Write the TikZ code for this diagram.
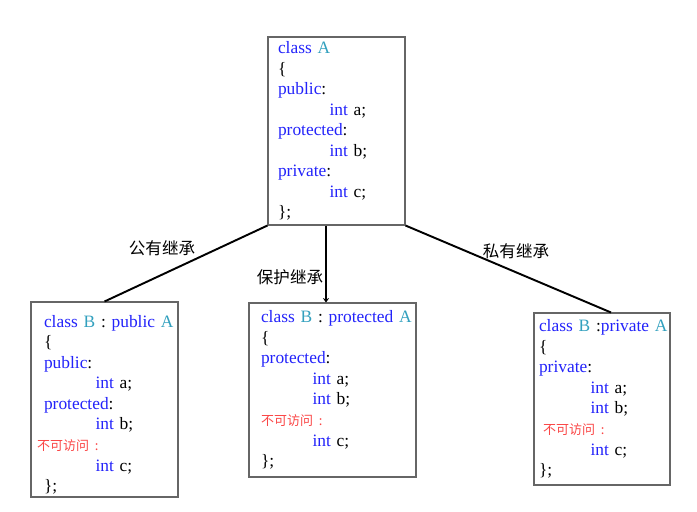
\documentclass[tikz,border=0pt]{standalone}
\usepackage{fontspec}
\setmainfont{Liberation Serif}
\newfontfamily\cjk{Noto Sans CJK SC}
\usepackage{tikz}
\usetikzlibrary{arrows.meta,calc}
\definecolor{kwblue}{RGB}{35,35,250}
\definecolor{clsteal}{RGB}{50,160,190}
\definecolor{noaccess}{RGB}{250,70,70}
\newcommand{\kwd}[1]{\textcolor{kwblue}{#1}}
\newcommand{\clsn}[1]{\textcolor{clsteal}{#1}}
\newcommand{\ind}{\hspace*{1.03cm}}
\newcommand{\noacc}{{\cjk\fontsize{7.4}{8}\selectfont\textcolor{noaccess}{不可访问 :}}}
\tikzset{
    classbox/.style={draw=black!60, line width=0.6pt, align=left, inner ysep=0pt,
        font=\fontsize{9.9}{11.7}\selectfont},
    conn/.style={line width=1.1pt, black},
    inherit/.style={font=\cjk\fontsize{9.4}{11}\selectfont},
}

\begin{document}
\begin{tikzpicture}[x=0.02cm, y=-0.02cm]
\useasboundingbox (0,0) rectangle (697,511);

% base class
\node[classbox, text width=2.34cm, inner xsep=0.2cm, minimum height=3.76cm] (A) at (336.5,131) {
\kwd{class} \clsn{A}\\
\{\\
\kwd{public}:\\
\ind\kwd{int} a;\\
\kwd{protected}:\\
\ind\kwd{int} b;\\
\kwd{private}:\\
\ind\kwd{int} c;\\
\};};

% derived classes
\node[classbox, text width=2.42cm, inner xsep=0.26cm, minimum height=3.9cm] (pub) at (104.5,399.5) {
\rule{0pt}{0.45cm}\mbox{\kwd{class} \clsn{B} : \kwd{public} \clsn{A}}\\
\{\\
\kwd{public}:\\
\ind\kwd{int} a;\\
\kwd{protected}:\\
\ind\kwd{int} b;\\
\hspace*{-0.14cm}\noacc\\
\ind\kwd{int} c;\\
\};};

\node[classbox, text width=2.86cm, inner xsep=0.24cm, minimum height=3.48cm] (pro) at (332.5,390) {
\mbox{\kwd{class} \clsn{B} : \kwd{protected} \clsn{A}}\\
\{\\
\kwd{protected}:\\
\ind\kwd{int} a;\\
\ind\kwd{int} b;\\
\noacc\\
\ind\kwd{int} c;\\
\};};

\node[classbox, text width=2.52cm, inner xsep=0.1cm, minimum height=3.44cm] (pri) at (602,399) {
\mbox{\kwd{class} \clsn{B} :\kwd{private} \clsn{A}}\\
\{\\
\kwd{private}:\\
\ind\kwd{int} a;\\
\ind\kwd{int} b;\\
\hspace*{0.08cm}\noacc\\
\ind\kwd{int} c;\\
\};};

% connectors
\draw[conn] (A.south west) -- (pub.north);
\draw[conn, -{Stealth[length=2.5pt,width=3.5pt]}] ($(A.south)+(-10.5,0)$) coordinate (m) -- (m |- pro.north);
\draw[conn] (A.south east) -- ($(pri.north)+(9,0)$);

\node[inherit] (lpub) at (162,248) {公有继承};
\node[inherit] (lpro) at (290,277) {保护继承};
\node[inherit] (lpri) at (516,251) {私有继承};
\end{tikzpicture}
\end{document}
